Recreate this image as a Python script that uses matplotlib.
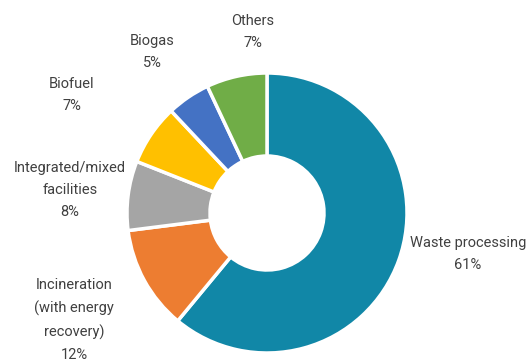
import matplotlib.pyplot as plt

labels = ["Waste processing", "Incineration\n(with energy\nrecovery)", "Integrated/mixed\nfacilities",
          "Biofuel", "Biogas", "Others"]
shares = [61, 12, 8, 7, 5, 7]
colors = ["#1187a7", "#ed7d31", "#a5a5a5", "#ffc000", "#4472c4", "#70ad47"]
# label centres in pixel coordinates (x, y from top)
label_pos = [(468, 254), (74, 320), (70, 190), (72, 95), (152, 52), (253, 32)]

W, H = 528, 363
fig = plt.figure(figsize=(W / 100, H / 100), dpi=100)
ax = fig.add_axes([0, 0, 1, 1])

ax.pie(shares, colors=colors, startangle=90, counterclock=False,
       center=(267, H - 213), radius=140,
       wedgeprops=dict(width=83, edgecolor="white", linewidth=2.5))

# pie() resets the limits, so set them afterwards
ax.set_xlim(0, W)
ax.set_ylim(0, H)
ax.set_aspect("equal")
ax.axis("off")

for lab, val, (px, py) in zip(labels, shares, label_pos):
    ax.text(px, H - py, f"{lab}\n{val}%", ha="center", va="center",
            fontsize=10.5, family="Roboto", color="#404040", linespacing=1.72)

fig.savefig("out.png", dpi=100)
